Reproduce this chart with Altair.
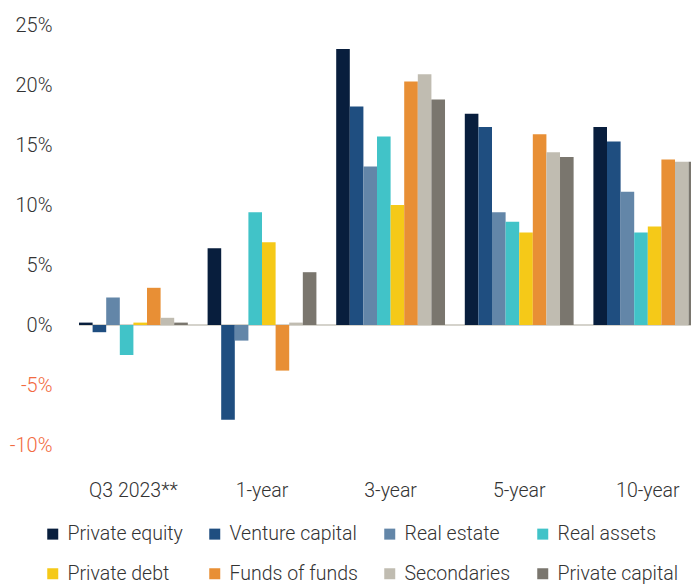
import altair as alt
import pandas as pd

periods = ["Q3 2023**", "1-year", "3-year", "5-year", "10-year"]
series = ["Private equity", "Venture capital", "Real estate", "Real assets",
          "Private debt", "Funds of funds", "Secondaries", "Private capital"]
colors = ["#081E3D", "#1F4E80", "#6386A8", "#41C3C8",
          "#F5C918", "#E88F35", "#C0BCB1", "#7A766E"]

private_equity = [0.2, 6.4, 23.0, 17.6, 16.5]
venture_capital = [-0.6, -7.9, 18.2, 16.5, 15.3]
real_estate = [2.3, -1.3, 13.2, 9.4, 11.1]
real_assets = [-2.5, 9.4, 15.7, 8.6, 7.7]
private_debt = [0.2, 6.9, 10.0, 7.7, 8.2]
funds_of_funds = [3.1, -3.8, 20.3, 15.9, 13.8]
secondaries = [0.6, 0.2, 20.9, 14.4, 13.6]
private_capital = [0.2, 4.4, 18.8, 14.0, 13.6]

y_ticks = [-10, -5, 0, 5, 10, 15, 20, 25]

values = [private_equity, venture_capital, real_estate, real_assets,
          private_debt, funds_of_funds, secondaries, private_capital]
rows = []
for s, vals in zip(series, values):
    for p, v in zip(periods, vals):
        rows.append({"period": p, "series": s, "value": v})
df = pd.DataFrame(rows)

FONT = "Roboto"
W, H = 623, 420
STEP = 128.6
RANGE_START = 11
RANGE_END = RANGE_START + STEP * (5 - 20 / 130)

bars = alt.Chart(df).mark_bar(clip=True).encode(
    x=alt.X("period:N", sort=periods,
            scale=alt.Scale(range=[RANGE_START, RANGE_END], paddingInner=20 / 130, paddingOuter=0),
            axis=alt.Axis(title=None, labelAngle=0,
                          labelPadding=36, labelFontSize=19.5, labelColor="#333333",
                          labelFont=FONT, labelFontWeight=300)),
    xOffset=alt.XOffset("series:N", sort=series,
                        scale=alt.Scale(paddingInner=0, paddingOuter=0)),
    y=alt.Y("value:Q", scale=alt.Scale(domain=[-10, 25], nice=False, zero=False),
            axis=alt.Axis(title=None, values=y_ticks,
                          labelExpr="datum.value + '%'", labelPadding=16,
                          labelFontSize=20, labelFont=FONT, labelFontWeight=300,
                          labelColor={"expr": "datum.value < 0 ? '#F26A41' : '#333333'"})),
    color=alt.Color("series:N", sort=series,
                    scale=alt.Scale(domain=series, range=colors),
                    legend=alt.Legend(title=None, orient="none", legendX=-25, legendY=499,
                                      direction="horizontal", columns=4, columnPadding=22,
                                      rowPadding=19, symbolType="square", symbolSize=121,
                                      symbolStrokeWidth=0, labelFontSize=19.5, labelFont=FONT,
                                      labelFontWeight=300,
                                      labelColor="#333333", labelOffset=5, labelLimit=300)),
)

zero = alt.Chart(pd.DataFrame({"y": [0]})).mark_rule(color="#D5D3CC", strokeWidth=2).encode(
    y=alt.Y("y:Q"), x=alt.value(RANGE_START), x2=alt.value(W)
)

chart = alt.layer(zero, bars).properties(
    width=W, height=H,
    autosize=alt.AutoSizeParams(type="none"),
    padding={"left": 60, "top": 17, "right": 0, "bottom": 150},
).configure(
    font=FONT
).configure_view(
    stroke=None
).configure_axis(
    domain=False, grid=False, ticks=False
)

chart.save("out.html", embed_options={"renderer": "svg", "actions": False})
